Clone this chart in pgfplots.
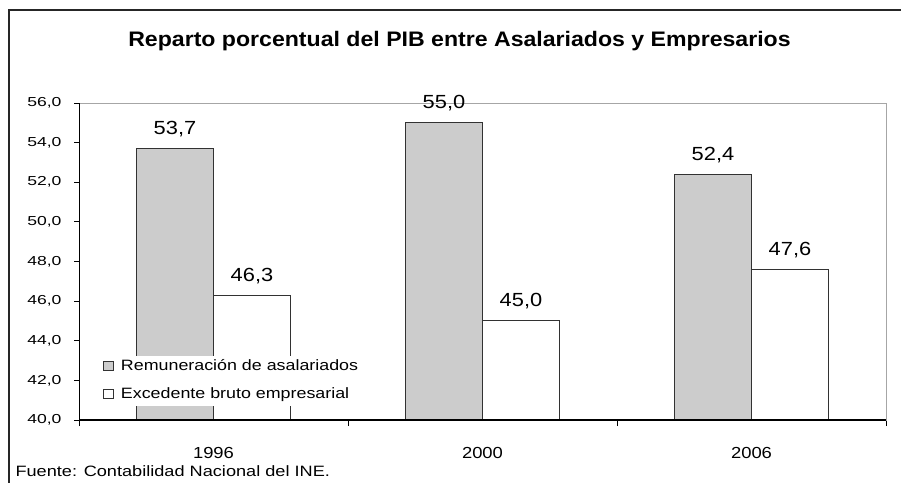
\documentclass[border=0pt]{standalone}
\usepackage{fontspec}
\setmainfont{Liberation Sans}
\newfontfamily\tickfont[FakeStretch=1.35]{Liberation Sans}
\newfontfamily\widefont[FakeStretch=1.15]{Liberation Sans}
\newfontfamily\legfont[FakeStretch=1.19]{Liberation Sans}
\newfontfamily\srcfont[FakeStretch=1.21]{Liberation Sans}
\newfontfamily\titlefont[FakeStretch=1.1]{Liberation Sans}
\usepackage{pgfplots}
\pgfplotsset{compat=1.18}
\definecolor{barfill}{RGB}{204,204,204}
\definecolor{bardraw}{RGB}{50,50,50}

\begin{document}
\begin{tikzpicture}[x=1pt,y=1pt]
\useasboundingbox (0,0) rectangle (901,482);
% outer frame (bottom and right cut off)
\draw[line width=1.3pt, black!85] (9,-2) -- (9,472) -- (903,472);
\node[font=\titlefont\fontsize{21}{24}\selectfont\bfseries, anchor=base] at (459.5,435.3)
 {Reparto porcentual del PIB entre Asalariados y Empresarios};
\node[font=\srcfont\fontsize{15}{18}\selectfont, anchor=base west] at (12,6)
 {Fuente: Contabilidad Nacional del INE.};

\begin{axis}[
 at={(79pt,62pt)}, anchor=south west,
 scale only axis,
 width=807pt, height=317pt,
 ybar=0pt, bar width=77pt,
 xmin=-0.5, xmax=2.5,
 ymin=40, ymax=56,
 ytick={40,42,...,56},
 xtick={0,1,2},
 xticklabels={1996,2000,2006},
 minor xtick={-0.5,0.5,1.5,2.5},
 xtick pos=bottom, ytick pos=left,
 tick align=outside,
 major tick length=5pt,
 minor tick length=6pt,
 x tick style={draw=none},
 minor x tick style={draw=black, line width=0.8pt},
 y tick style={draw=black, line width=0.8pt},
 axis line style={draw=gray!70, line width=0.6pt},
 /pgf/number format/.cd, fixed, fixed zerofill, precision=1, use comma, assume math mode=true,
 /pgfplots/.cd,
 yticklabel style={font=\tickfont\fontsize{13}{13}\selectfont, anchor=east, xshift=-9pt},
 xticklabel style={font=\widefont\fontsize{16}{16}\selectfont, anchor=base, yshift=-33pt},
 nodes near coords,
 nodes near coords style={font=\widefont\fontsize{19}{19}\selectfont, anchor=base, yshift=14pt},
 legend style={at={(0.026,0.044)}, anchor=south west, draw=none, fill=white,
   font=\legfont\fontsize{15}{18}\selectfont,
   nodes={inner sep=2pt, text height=11pt, text depth=3pt}, row sep=10pt,
   inner xsep=3pt, inner ysep=2pt,
   /tikz/every odd column/.append style={column sep=5pt}},
 legend cell align=left,
]
\addplot[fill=barfill, draw=bardraw, line width=1pt,
 legend image code/.code={\draw[fill=barfill, draw=bardraw, line width=0.8pt] (0pt,-4pt) rectangle (10pt,5pt);}]
 coordinates {(0,53.7) (1,55.0) (2,52.4)};
\addplot[fill=white, draw=bardraw, line width=1pt,
 legend image code/.code={\draw[fill=white, draw=bardraw, line width=0.8pt] (0pt,-4pt) rectangle (10pt,5pt);}]
 coordinates {(0,46.3) (1,45.0) (2,47.6)};
\legend{Remuneración de asalariados, Excedente bruto empresarial}
\draw[black, line width=1.6pt] (rel axis cs:0,0) -- (rel axis cs:1,0);
\draw[black, line width=1pt] (rel axis cs:0,0) -- (rel axis cs:0,1);
\end{axis}
\end{tikzpicture}
\end{document}
